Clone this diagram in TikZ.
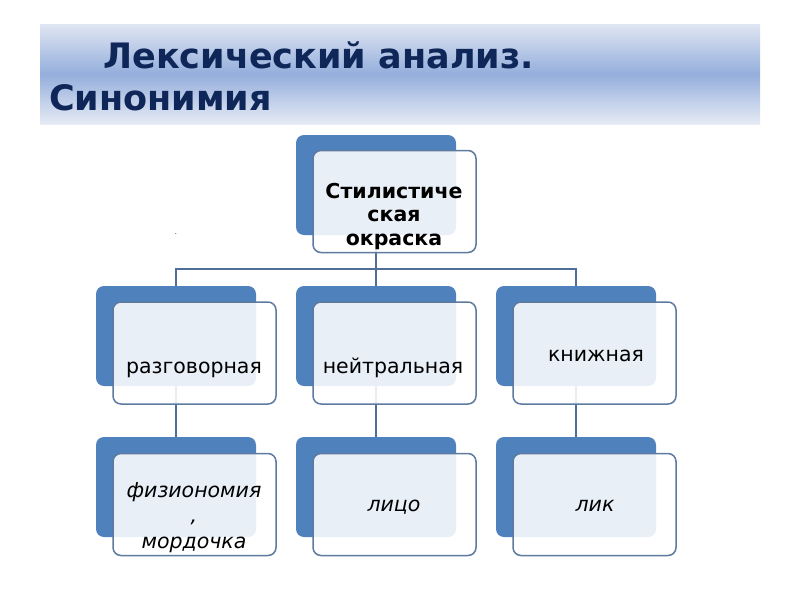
\documentclass[tikz,border=0pt]{standalone}
\usepackage{fontspec}
\setmainfont{DejaVu Sans}
\definecolor{backblue}{HTML}{4F81BD}
\definecolor{frontline}{HTML}{5E7AA0}
\definecolor{linkblue}{HTML}{4F6F97}
\definecolor{titlenavy}{HTML}{0F2659}
\definecolor{bannertop}{HTML}{E0E6F2}
\definecolor{bannermid}{HTML}{94AEDC}
\definecolor{bannerbot}{HTML}{E6EBF5}

\begin{document}
\begin{tikzpicture}[x=1pt,y=-1pt,
    backbox/.style={fill=backblue,rounded corners=8pt,minimum width=160pt,minimum height=100pt,inner sep=0pt},
    frontbox/.style={draw=frontline,line width=1.5pt,fill=white,fill opacity=0.88,rounded corners=8pt,minimum width=163pt,minimum height=102pt,inner sep=0pt},
    boxtext/.style={align=center,anchor=base,inner sep=0pt,font=\fontsize{20.5}{23.5}\selectfont},
    titletext/.style={anchor=base west,text=titlenavy,inner sep=0pt,font=\fontsize{35}{40}\bfseries\selectfont},
    link/.style={draw=linkblue,line width=1.2pt}]
    \useasboundingbox (0,0) rectangle (800,600);
    % title banner
    \shade[top color=bannertop,bottom color=bannerbot,middle color=bannermid] (40,24) rectangle (760,124);
    \node[titletext] (title1) at (103,68) {Лексический анализ.};
    \node[titletext] (title2) at (49,110) {Синонимия};
    % back boxes
    \node[backbox] (stilB) at (376,185) {};
    \node[backbox] (razgB) at (176,336) {};
    \node[backbox] (neitB) at (376,336) {};
    \node[backbox] (knizB) at (576,336) {};
    \node[backbox] (fizB) at (176,487) {};
    \node[backbox] (liczB) at (376,487) {};
    \node[backbox] (likB) at (576,487) {};
    % connectors
    \coordinate (split) at (376,269);
    \draw[link] (stilB.south) -- (split);
    \draw[link] (split) -| (razgB.north);
    \draw[link] (split) -| (knizB.north);
    \draw[link] (split) -- (neitB.north);
    \draw[link] (razgB.south) -- (fizB.north);
    \draw[link] (neitB.south) -- (liczB.north);
    \draw[link] (knizB.south) -- (likB.north);
    % front boxes
    \node[frontbox] (stilF) at (394.5,201.5) {};
    \node[frontbox] (razgF) at (194.5,353) {};
    \node[frontbox] (neitF) at (394.5,353) {};
    \node[frontbox] (knizF) at (594.5,353) {};
    \node[frontbox] (fizF) at (194.5,504.5) {};
    \node[frontbox] (liczF) at (394.5,504.5) {};
    \node[frontbox] (likF) at (594.5,504.5) {};
    % texts (multi-line nodes sit on their last baseline)
    \node[boxtext,font=\fontsize{20.5}{23.5}\bfseries\selectfont] (stilT) at (394,245) {Стилистиче\\ская\\окраска};
    \node[boxtext] (razgT) at (194,373) {разговорная};
    \node[boxtext] (neitT) at (393,373) {нейтральная};
    \node[boxtext] (knizT) at (596,361) {книжная};
    \node[boxtext,font=\fontsize{20.5}{25.5}\itshape\selectfont] (fizT) at (194,548) {физиономия\\,\\мордочка};
    \node[boxtext,font=\fontsize{20.5}{24}\itshape\selectfont] (liczT) at (394,511) {лицо};
    \node[boxtext,font=\fontsize{20.5}{24}\itshape\selectfont] (likT) at (595,511) {лик};
    \node[font=\fontsize{8}{8}\selectfont,text=black!70,inner sep=0pt] (dot) at (176,234) {.};
\end{tikzpicture}
\end{document}
